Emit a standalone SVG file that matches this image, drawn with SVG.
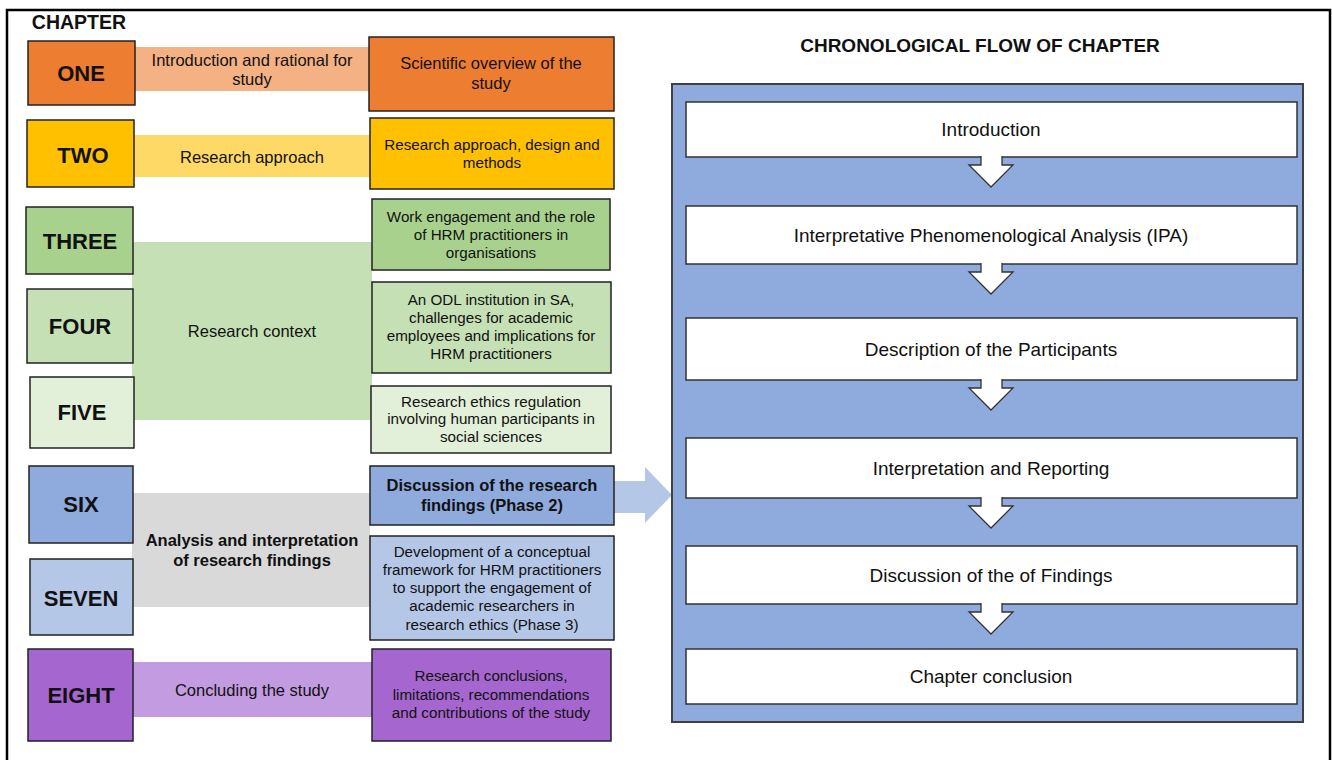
<svg xmlns="http://www.w3.org/2000/svg" width="1332" height="760" viewBox="0 0 1332 760">
<style>
text{font-family:"Liberation Sans",Arial,sans-serif;fill:#111;text-anchor:middle}
.ch{font-size:22px;font-weight:bold}
.bt{font-size:16.5px}
.bb{font-size:16.5px;font-weight:bold}
.rt{font-size:15.2px}
.pt{font-size:19px}
.box{stroke:#222;stroke-width:1.5}
.wb{fill:#fff;stroke:#333;stroke-width:1.5}
.dn{fill:#fff;stroke:#333;stroke-width:1.3}
</style>
<rect width="1332" height="760" fill="#fff"/>
<path d="M7,760 V10 H1330 V760" fill="none" stroke="#000" stroke-width="2.5"/>
<text x="79" y="29" style="font-size:19.5px;font-weight:bold">CHAPTER</text>
<text x="980" y="52" style="font-size:19px;font-weight:bold">CHRONOLOGICAL FLOW OF CHAPTER</text>

<g id="connectors">
<rect x="134" y="47" width="236" height="44" fill="#F4B183"/>
<rect x="134" y="135" width="236" height="42" fill="#FFD966"/>
<rect x="132" y="242" width="240" height="178" fill="#C5E0B4"/>
<rect x="132" y="493" width="238" height="114" fill="#D9D9D9"/>
<rect x="132" y="662" width="240" height="55" fill="#C39BE0"/>
<polygon points="613,481 645,481 645,467 672,495 645,523 645,513 613,513" fill="#B4C7E7"/>
</g>

<g id="band-one-label"><text class="bt" x="252" y="66">Introduction and rational for</text><text class="bt" x="252" y="85">study</text></g>
<g id="band-two-label"><text class="bt" x="252" y="163">Research approach</text></g>
<g id="band-context-label"><text class="bt" x="252" y="337">Research context</text></g>
<g id="band-analysis-label"><text class="bb" x="252" y="546">Analysis and interpretation</text><text class="bb" x="252" y="566">of research findings</text></g>
<g id="band-eight-label"><text class="bt" x="252" y="696">Concluding the study</text></g>

<g id="ch-one"><rect class="box" x="28" y="41" width="107" height="64" fill="#ED7D31"/><text class="ch" x="81" y="81">ONE</text></g>
<g id="ch-two"><rect class="box" x="27" y="120" width="107" height="67" fill="#FFC000"/><text class="ch" x="83" y="163">TWO</text></g>
<g id="ch-three"><rect class="box" x="26" y="207" width="107" height="67" fill="#A9D18E"/><text class="ch" x="80" y="249">THREE</text></g>
<g id="ch-four"><rect class="box" x="27" y="289" width="106" height="74" fill="#C5E0B4"/><text class="ch" x="80" y="334">FOUR</text></g>
<g id="ch-five"><rect class="box" x="30" y="377" width="104" height="71" fill="#E2F0D9"/><text class="ch" x="82" y="420">FIVE</text></g>
<g id="ch-six"><rect class="box" x="29" y="466" width="104" height="77" fill="#8FAADC"/><text class="ch" x="81" y="512">SIX</text></g>
<g id="ch-seven"><rect class="box" x="30" y="559" width="103" height="76" fill="#B4C7E7"/><text class="ch" x="81" y="606">SEVEN</text></g>
<g id="ch-eight"><rect class="box" x="28" y="649" width="105" height="92" fill="#A566CF"/><text class="ch" x="81" y="703">EIGHT</text></g>

<g id="r-one"><rect class="box" x="369" y="37" width="245" height="74" fill="#ED7D31"/><text class="bt" x="491" y="69">Scientific overview of the</text><text class="bt" x="491" y="89">study</text></g>
<g id="r-two"><rect class="box" x="370" y="118" width="244" height="71" fill="#FFC000"/><text class="rt" x="492" y="150">Research approach, design and</text><text class="rt" x="492" y="168">methods</text></g>
<g id="r-three"><rect class="box" x="372" y="199" width="238" height="71" fill="#A9D18E"/><text class="rt" x="491" y="222">Work engagement and the role</text><text class="rt" x="491" y="240">of HRM practitioners in</text><text class="rt" x="491" y="258">organisations</text></g>
<g id="r-four"><rect class="box" x="372" y="282" width="239" height="91" fill="#C5E0B4"/><text class="rt" x="491" y="305">An ODL institution in SA,</text><text class="rt" x="491" y="323">challenges for academic</text><text class="rt" x="491" y="341">employees and implications for</text><text class="rt" x="491" y="359">HRM practitioners</text></g>
<g id="r-five"><rect class="box" x="371" y="386" width="240" height="67" fill="#E2F0D9"/><text class="rt" x="491" y="407">Research ethics regulation</text><text class="rt" x="491" y="424">involving human participants in</text><text class="rt" x="491" y="442">social sciences</text></g>
<g id="r-six"><rect class="box" x="370" y="466" width="244" height="59" fill="#8FAADC"/><text class="bb" x="492" y="491">Discussion of the research</text><text class="bb" x="492" y="511">findings (Phase 2)</text></g>
<g id="r-seven"><rect class="box" x="370" y="536" width="244" height="104" fill="#B4C7E7"/><text class="rt" x="492" y="557">Development of a conceptual</text><text class="rt" x="492" y="575">framework for HRM practitioners</text><text class="rt" x="492" y="593">to support the engagement of</text><text class="rt" x="492" y="611">academic researchers in</text><text class="rt" x="492" y="630">research ethics (Phase 3)</text></g>
<g id="r-eight"><rect class="box" x="372" y="649" width="239" height="92" fill="#A566CF"/><text class="rt" x="491" y="681">Research conclusions,</text><text class="rt" x="491" y="700">limitations, recommendations</text><text class="rt" x="491" y="718">and contributions of the study</text></g>

<g id="flow-panel"><rect x="672" y="84" width="631" height="638" fill="#8FAADC" stroke="#404040" stroke-width="2"/></g>
<g id="f-intro"><rect class="wb" x="686" y="102" width="611" height="55"/><text class="pt" x="991" y="136">Introduction</text></g>
<g id="f-ipa"><rect class="wb" x="686" y="206" width="611" height="58"/><text class="pt" x="991" y="242">Interpretative Phenomenological Analysis (IPA)</text></g>
<g id="f-desc"><rect class="wb" x="686" y="318" width="611" height="62"/><text class="pt" x="991" y="356">Description of the Participants</text></g>
<g id="f-interp"><rect class="wb" x="686" y="438" width="611" height="60"/><text class="pt" x="991" y="475">Interpretation and Reporting</text></g>
<g id="f-disc"><rect class="wb" x="686" y="546" width="611" height="58"/><text class="pt" x="991" y="582">Discussion of the of Findings</text></g>
<g id="f-concl"><rect class="wb" x="686" y="649" width="611" height="55"/><text class="pt" x="991" y="683">Chapter conclusion</text></g>

<g id="flow-connectors">
<path class="dn" d="M981,156 V165 H969 L991,187 L1013,165 H1002 V156"/>
<path class="dn" d="M981,263 V272 H969 L991,294 L1013,272 H1002 V263"/>
<path class="dn" d="M981,379 V388 H969 L991,410 L1013,388 H1002 V379"/>
<path class="dn" d="M981,497 V506 H969 L991,528 L1013,506 H1002 V497"/>
<path class="dn" d="M981,603 V612 H969 L991,634 L1013,612 H1002 V603"/>
</g>
</svg>
